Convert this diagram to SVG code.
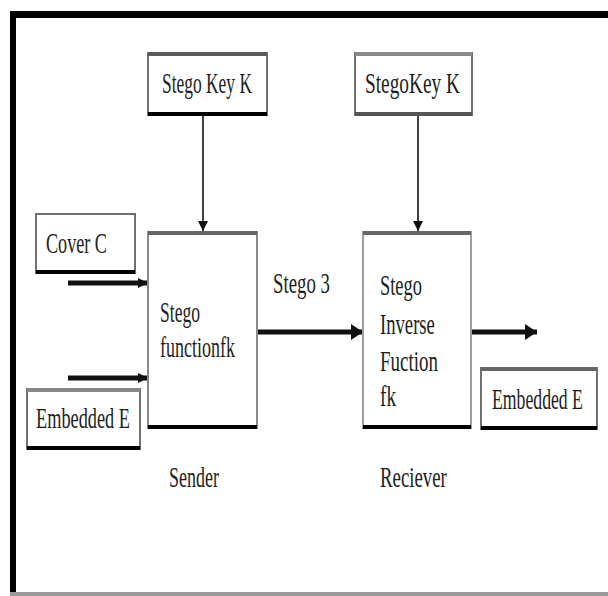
<svg xmlns="http://www.w3.org/2000/svg" width="608" height="596" viewBox="0 0 608 596">
<style>
.t{font-family:"Liberation Serif","Times New Roman",serif;font-size:30px;fill:#1e1e1e}
.box{fill:#fff;stroke:#707070;stroke-width:2}
.top{stroke:#5a5a5a;stroke-width:4}
.bot{stroke:#000;stroke-width:4}
.thick{stroke:#111;stroke-width:5;fill:none}
.thin{stroke:#111;stroke-width:1.6;fill:none}
</style>
<defs>
<marker id="ah" markerUnits="userSpaceOnUse" markerWidth="12" markerHeight="18" refX="12" refY="9" orient="auto">
<path d="M0,1 L12,9 L0,17 Z" fill="#111"/>
</marker>
<marker id="ahs" markerUnits="userSpaceOnUse" markerWidth="10" markerHeight="12" refX="10" refY="6" orient="auto">
<path d="M0,1 L10,6 L0,11 Z" fill="#111"/>
</marker>
</defs>
<rect width="608" height="596" fill="#fff"/>
<g id="frame">
<rect x="10" y="11" width="598" height="7" fill="#000"/>
<rect x="10" y="11" width="6" height="585" fill="#000"/>
<rect x="10" y="592" width="598" height="4" fill="#9a9a9a"/>
</g>
<g id="connectors">
<line class="thin" x1="203" y1="116" x2="203" y2="231" marker-end="url(#ahs)"/>
<line class="thin" x1="418" y1="116" x2="418" y2="231" marker-end="url(#ahs)"/>
<line class="thick" x1="68" y1="283" x2="148" y2="283" marker-end="url(#ahs)"/>
<line class="thick" x1="68" y1="378" x2="148" y2="378" marker-end="url(#ahs)"/>
<line class="thick" x1="258" y1="332" x2="363" y2="332" marker-end="url(#ah)"/>
<line class="thick" x1="472" y1="332" x2="537" y2="332" marker-end="url(#ah)"/>
</g>
<g id="key1">
<rect class="box" x="148" y="53" width="119" height="62"/>
<line class="top" x1="148" y1="54" x2="267" y2="54"/>
<line class="bot" x1="148" y1="114" x2="267" y2="114"/>
<text class="t" transform="matrix(0.581,0,0,1,162,93)">Stego Key K</text>
</g>
<g id="key2">
<rect class="box" x="355" y="53" width="117" height="62"/>
<line class="top" x1="355" y1="54" x2="472" y2="54" style="stroke:#8a8a8a"/>
<line class="bot" x1="355" y1="114" x2="472" y2="114" style="stroke:#555"/>
<text class="t" transform="matrix(0.644,0,0,1,365,93)">StegoKey K</text>
</g>
<g id="cover">
<rect class="box" x="36" y="214" width="99" height="59"/>
<line class="bot" x1="36" y1="272" x2="135" y2="272"/>
<text class="t" transform="matrix(0.605,0,0,1,46,253)">Cover C</text>
</g>
<g id="embedded-in">
<rect class="box" x="27" y="389" width="113" height="60"/>
<line class="top" x1="27" y1="390" x2="140" y2="390" style="stroke:#888"/>
<line class="bot" x1="27" y1="448" x2="140" y2="448"/>
<text class="t" transform="matrix(0.61,0,0,1,36,428)">Embedded E</text>
</g>
<g id="sender-fn">
<rect class="box" x="148" y="232" width="109" height="196" style="stroke:#8a8a8a"/>
<line class="top" x1="148" y1="233" x2="257" y2="233" style="stroke:#666"/>
<line class="bot" x1="148" y1="427" x2="257" y2="427"/>
<text class="t" transform="matrix(0.585,0,0,1,160,322)">Stego</text>
<text class="t" transform="matrix(0.6,0,0,1,160,357)">functionfk</text>
</g>
<g id="receiver-fn">
<rect class="box" x="363" y="232" width="108" height="196" style="stroke:#a0a0a0"/>
<line class="top" x1="363" y1="233" x2="471" y2="233" style="stroke:#666"/>
<line class="bot" x1="363" y1="427" x2="471" y2="427"/>
<text class="t" transform="matrix(0.614,0,0,1,380,295)">Stego</text>
<text class="t" transform="matrix(0.622,0,0,1,380,334)">Inverse</text>
<text class="t" transform="matrix(0.633,0,0,1,380,371)">Fuction</text>
<text class="t" transform="matrix(0.64,0,0,1,380,406)">fk</text>
</g>
<g id="embedded-out">
<rect class="box" x="481" y="368" width="116" height="61"/>
<line class="top" x1="481" y1="369" x2="597" y2="369" style="stroke:#666"/>
<line class="bot" x1="481" y1="428" x2="597" y2="428"/>
<text class="t" transform="matrix(0.59,0,0,1,492,409)">Embedded E</text>
</g>
<g id="labels">
<text class="t" transform="matrix(0.627,0,0,1,273,293)">Stego 3</text>
<text class="t" transform="matrix(0.6,0,0,1,169,487)">Sender</text>
<text class="t" transform="matrix(0.628,0,0,1,380,487)">Reciever</text>
</g>
</svg>
